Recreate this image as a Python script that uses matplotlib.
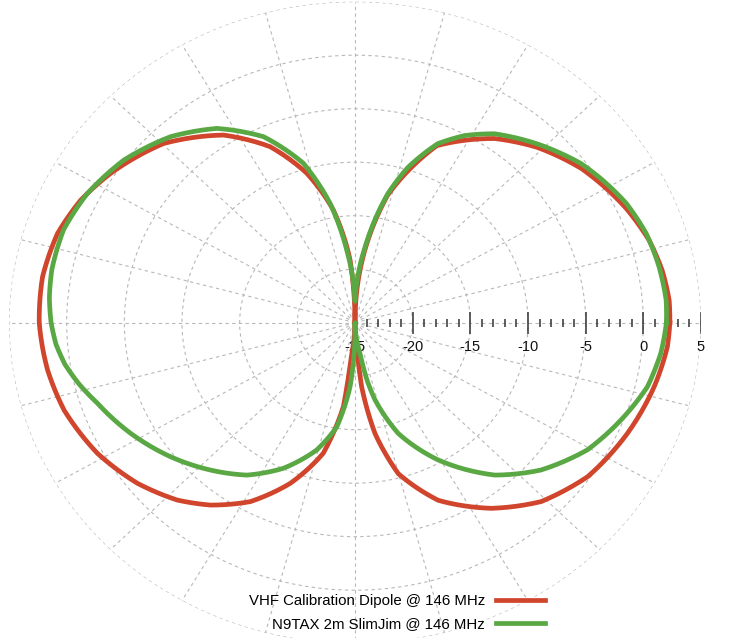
import matplotlib
matplotlib.use("Agg")
import matplotlib.pyplot as plt
import numpy as np

# Radiation patterns: angle (deg, CCW from east) and gain (dB)
dipole_deg = [0, 4.4, 10.4, 16.8, 24.4, 31.8, 36.3, 46.0, 54.9, 66.8, 76.7, 83.0,
              86.5, 90.0, 94.2, 100.1, 106.7, 114.1, 123.0, 134.7, 146.6, 154.3,
              162.1, 171.0, 180.0, 189.4, 198.0, 208.7, 218.5, 227.1, 233.7, 241.5,
              249.5, 257.3, 262.7, 264.3, 270.0, 273.7, 275.5, 279.5, 284.9, 293.5,
              304.3, 314.0, 324.5, 336.4, 347.0, 355.3, 360]
dipole_db = [2.30, 2.32, 2.08, 1.64, 0.83, -0.09, -0.65, -2.23, -3.96, -7.0, -12.8,
             -18.3, -21.5, -25.0, -19.1, -14.3, -10.4, -6.98, -4.09, -1.43, 0.37,
             1.40, 2.11, 2.43, 2.38, 2.02, 1.51, 0.45, -0.89, -2.37, -3.85, -5.97,
             -8.97, -12.5, -17.1, -22.1, -25.0, -22.75, -19.0, -14.5, -10.4, -6.9,
             -4.0, -1.76, -0.22, 0.79, 1.62, 2.18, 2.30]

slimjim_deg = [0, 4.5, 11.1, 18.3, 25.4, 32.7, 37.2, 46.6, 55.6, 61.5, 66.8, 72.5,
               76.7, 83.0, 90.0, 96.0, 101.0, 106.7, 114.5, 123.4, 132.6, 142.8,
               152.5, 161.0, 169.4, 175.0, 180.0, 184.5, 188.8, 193.5, 198.6, 208.0,
               218.1, 227.7, 236.7, 245.5, 254.4, 260.8, 265.9, 271.0, 278.6, 281.0,
               283.5, 289.9, 299.3, 310.4, 319.5, 329.5, 338.5, 346.7, 353.9, 360]
slimjim_db = [2.0, 2.06, 1.88, 1.59, 1.03, 0.16, -0.4, -2.0, -3.6, -5.1, -6.8, -9.8,
              -12.6, -17.9, -23.0, -18.2, -13.6, -9.45, -5.9, -3.25, -1.38, 0.15,
              1.16, 1.72, 1.75, 1.6, 1.35, 1.0, 0.45, -0.4, -1.43, -2.97,
              -4.69, -6.38, -7.96, -10.05, -12.65, -15.15, -19.0, -25.0, -22.1, -19.5,
              -17.6, -14.0, -10.3, -6.3, -3.8, -1.6, -0.21, 1.05, 1.67, 2.0]

series_labels = ["VHF Calibration Dipole @ 146 MHz", "N9TAX 2m SlimJim @ 146 MHz"]
series_colors = ["#d0452c", "#5aa844"]

r_min, r_max = -25, 5
major_ticks = [-25, -20, -15, -10, -5, 0, 5]
minor_ticks = [v for v in range(-24, 5) if v % 5 != 0]
spoke_angles = list(range(0, 360, 15))

plt.rcParams["font.family"] = ["Liberation Sans", "DejaVu Sans"]

W, H = 733, 638
fig = plt.figure(figsize=(W / 100, H / 100), dpi=100)

# polar area is stretched a bit wider than tall, like the original
cx, cy, rx, ry = 355, 322.7, 346, 321
ax = fig.add_axes([(cx - rx) / W, (H - cy - ry) / H, 2 * rx / W, 2 * ry / H],
                  projection="polar")
ax.set_aspect("auto")
ax.set_ylim(r_min, r_max)
ax.spines["polar"].set_visible(False)
ax.set_facecolor("none")

grid_kw = dict(color="#b8b8b8", linewidth=0.8, linestyle=(0, (3, 3)))
ax.set_thetagrids(spoke_angles, labels=[""] * len(spoke_angles))
ax.set_rgrids(major_ticks[1:], labels=[""] * (len(major_ticks) - 1))
ax.grid(True, **grid_kw)
ax.tick_params(axis="both", length=0)

# radial scale drawn along the 0 degree spoke
ax.plot(np.zeros(len(minor_ticks)), minor_ticks, linestyle="none", marker="|",
        markersize=6, markeredgewidth=1.1, color="#333333", zorder=3)
ax.plot(np.zeros(len(major_ticks) - 1), major_ticks[1:], linestyle="none",
        marker="|", markersize=16.5, markeredgewidth=1.1, color="#333333", zorder=3)
for v in major_ticks:
    ax.annotate(str(v), xy=(0, v), xytext=(0, -24), textcoords="offset pixels",
                ha="center", va="center", fontsize=10.5, color="#111111", zorder=2)

for deg, db, label, color in zip([dipole_deg, slimjim_deg], [dipole_db, slimjim_db],
                                 series_labels, series_colors):
    line, = ax.plot(np.deg2rad(deg), db, color=color, linewidth=3.4, label=label,
                    solid_joinstyle="round", zorder=4)
    # let the polar transform follow the angle between points instead of chords
    line.get_path()._interpolation_steps = 24

ax.set_ylim(r_min, r_max)

handles, labels = ax.get_legend_handles_labels()
fig.legend(handles, labels, loc="upper right", bbox_to_anchor=(545 / W, 1 - 594 / H),
           frameon=False, markerfirst=False, fontsize=10.8, handlelength=3.27,
           handletextpad=0.73, labelspacing=0.62, borderpad=0, borderaxespad=0)

fig.savefig("out.png", dpi=100)
